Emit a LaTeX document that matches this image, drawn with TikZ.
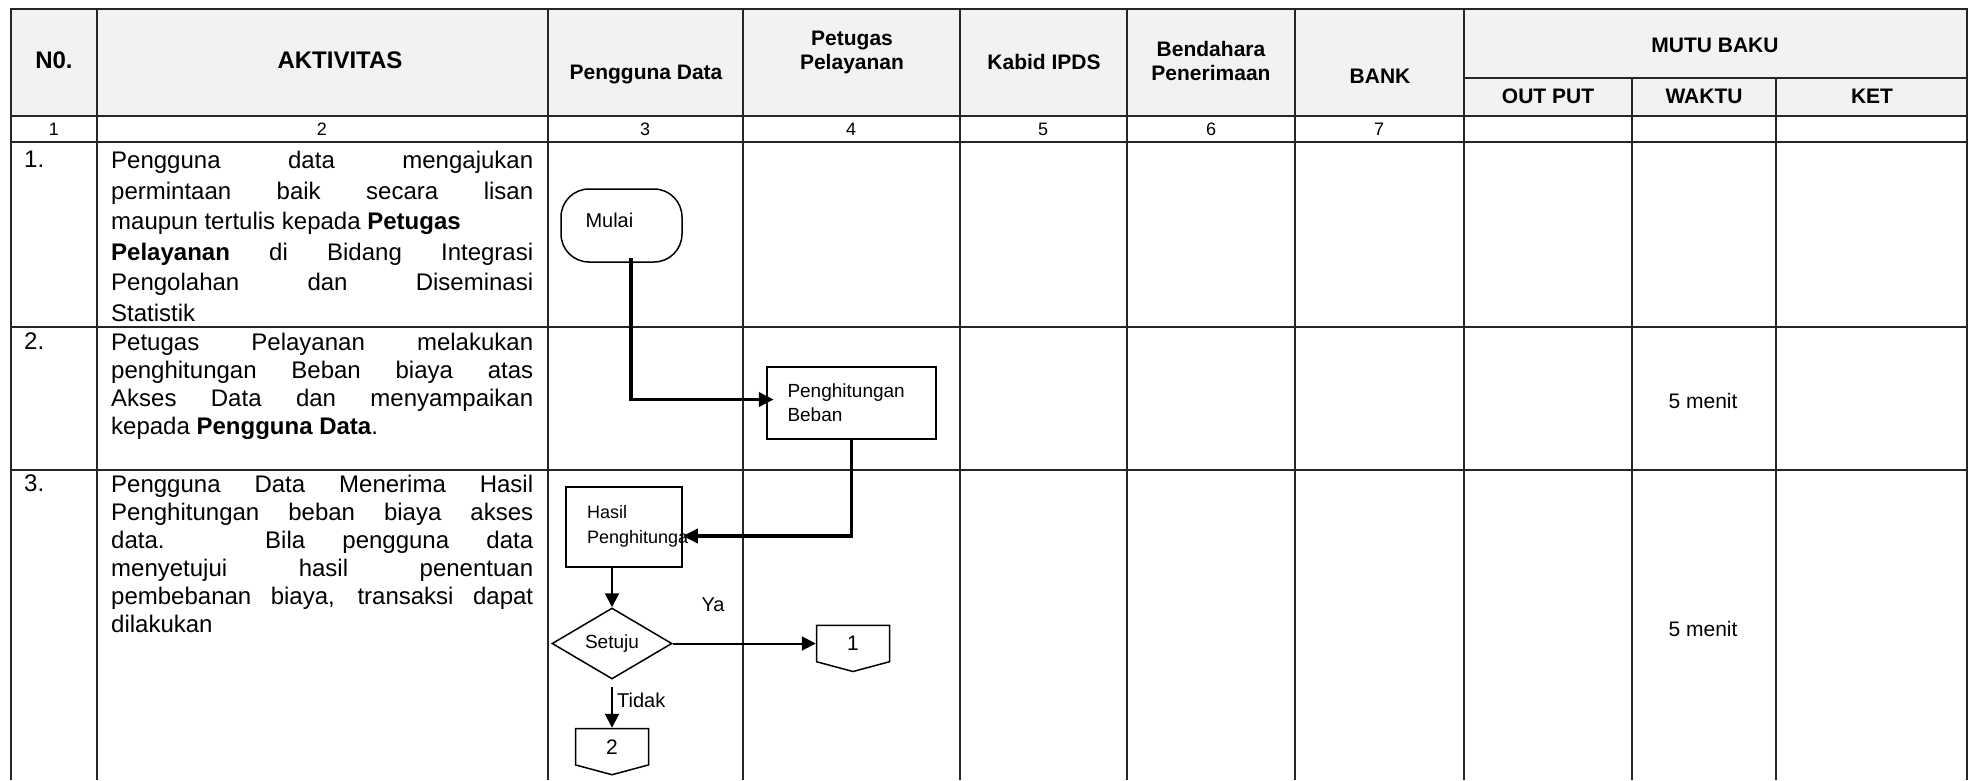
\documentclass[tikz,border=0pt]{standalone}
\usepackage{fontspec}
\setmainfont{Liberation Sans}
\usetikzlibrary{arrows.meta,positioning,shapes.geometric,shapes.symbols}
\definecolor{kepala}{HTML}{F2F2F2}

\begin{document}
\begin{tikzpicture}[x=1pt, y=-1pt,
    garis/.style={line width=1.5pt, black!85},
    judul/.style={font=\fontsize{21}{24}\selectfont\bfseries, align=center},
    nomor/.style={font=\fontsize{18}{20}\selectfont},
    uraian/.style={anchor=north west, inner sep=0pt, text width=422pt, align=justify, font=\fontsize{24}{28}\selectfont},
    kecil/.style={font=\fontsize{19}{24}\selectfont},
    terminal/.style={draw, line width=1.5pt, rounded corners=28pt, minimum width=121pt, minimum height=73pt, text width=72pt, align=left, text depth=11pt, font=\fontsize{20}{24}\selectfont},
    proses/.style={draw, rectangle, inner sep=0pt, kecil},
    keputusan/.style={draw, diamond, line width=1.5pt, aspect=1.69, minimum width=120pt, minimum height=71pt, inner sep=0pt, kecil},
    konektor/.style={draw, signal, signal to=south, signal pointer angle=150, line width=1.5pt, minimum width=73pt, minimum height=38pt, inner sep=0pt, font=\fontsize{21}{24}\selectfont},
    tebal/.style={line width=3.5pt, -{Triangle[length=15pt, width=14pt]}},
    tipis/.style={line width=2pt, -{Triangle[length=14pt, width=14pt]}}]
    \useasboundingbox (0,0) rectangle (1970,780);
    % kepala tabel
    \fill[kepala] (11,9) rectangle (1967,116);
    \draw[garis] (11,780) -- (11,9) -- (1967,9) -- (1967,780);
    \foreach \y in {116,142,327,470} \draw[garis] (11,\y) -- (1967,\y);
    \draw[garis] (1464,78) -- (1967,78);
    \foreach \x in {97,548,743,960,1127,1295,1464} \draw[garis] (\x,9) -- (\x,780);
    \foreach \x in {1632,1776} \draw[garis] (\x,78) -- (\x,780);
    \node[judul, font=\fontsize{24}{28}\selectfont\bfseries] (hno) at (54,60) {N0.};
    \node[judul, font=\fontsize{24}{28}\selectfont\bfseries] (hakt) at (340,60) {AKTIVITAS};
    \node[judul] (hpeng) at (646,74) {Pengguna Data};
    \node[judul] (hpet) at (852,52) {Petugas\\Pelayanan};
    \node[judul] (hkab) at (1044,62) {Kabid IPDS};
    \node[judul] (hbend) at (1211,61) {Bendahara\\Penerimaan};
    \node[judul] (hbank) at (1380,76) {BANK};
    \node[judul] (hmutu) at (1715,45) {MUTU BAKU};
    \node[judul] (hout) at (1548,96) {OUT PUT};
    \node[judul] (hwak) at (1704,96) {WAKTU};
    \node[judul] (hket) at (1872,96) {KET};
    \node[nomor] (n1) at (54,129) {1};
    \node[nomor] (n2) at (322,129) {2};
    \node[nomor] (n3) at (645,129) {3};
    \node[nomor] (n4) at (851,129) {4};
    \node[nomor] (n5) at (1043,129) {5};
    \node[nomor] (n6) at (1211,129) {6};
    \node[nomor] (n7) at (1379,129) {7};
    % isi baris
    \node[uraian, text width=40pt] (no1) at (24,151) {1.};
    \node[uraian, text width=40pt] (no2) at (24,333) {2.};
    \node[uraian, text width=40pt] (no3) at (24,475) {3.};
    \node[uraian, font=\fontsize{24}{30.6}\selectfont] (akt1) at (111,151) {Pengguna data mengajukan\linebreak permintaan baik secara lisan\linebreak maupun tertulis kepada \textbf{Petugas}\newline \textbf{Pelayanan} di Bidang Integrasi\linebreak Pengolahan dan Diseminasi\linebreak Statistik};
    \node[uraian] (akt2) at (111,333) {Petugas Pelayanan melakukan\linebreak penghitungan Beban biaya atas\linebreak Akses Data dan menyampaikan\linebreak kepada \textbf{Pengguna Data}.};
    \node[uraian] (akt3) at (111,475) {Pengguna Data Menerima Hasil\linebreak Penghitungan beban biaya akses\linebreak data. Bila pengguna data\linebreak menyetujui hasil penentuan\linebreak pembebanan biaya, transaksi dapat\linebreak dilakukan};
    \node[font=\fontsize{21}{24}\selectfont] (wkt2) at (1703,401) {5 menit};
    \node[font=\fontsize{21}{24}\selectfont] (wkt3) at (1703,629) {5 menit};
    % bagan alir
    \node[terminal] (mulai) at (621.5,225.5) {Mulai};
    \node[proses, line width=2.5pt, minimum width=169pt, minimum height=72pt, text width=128pt, align=left] (beban) at (851.5,403) {Penghitungan\\Beban};
    \node[proses, line width=1.5pt, minimum width=116pt, minimum height=80pt, text width=74pt, align=left, text depth=30pt, font=\fontsize{18}{25}\selectfont] (hasil) at (624,527) {Hasil\\Penghitunga};
    \node[keputusan] (setuju) at (612,643.5) {Setuju};
    \node[konektor, right=143pt of setuju] (konA) {1};
    \node[konektor, below=48pt of setuju] (konB) {2};
    \draw[tebal, shorten >=-8pt] ([xshift=9.5pt, yshift=5pt]mulai.south) |- ([yshift=3.5pt]beban.west);
    \draw[tebal] (beban.south) |- ([yshift=-9pt]hasil.east);
    \draw[tipis] (hasil.south -| setuju.north) -- (setuju.north);
    \draw[tipis] (setuju.east) -- (konA.west);
    \draw[tipis, shorten <=7pt] (setuju.south) -- (konB.north);
    \node[font=\fontsize{20}{24}\selectfont] (ya) at (713,605) {Ya};
    \node[font=\fontsize{20}{24}\selectfont, anchor=west, inner sep=0pt] (tidak) at (617,700) {Tidak};
\end{tikzpicture}
\end{document}
